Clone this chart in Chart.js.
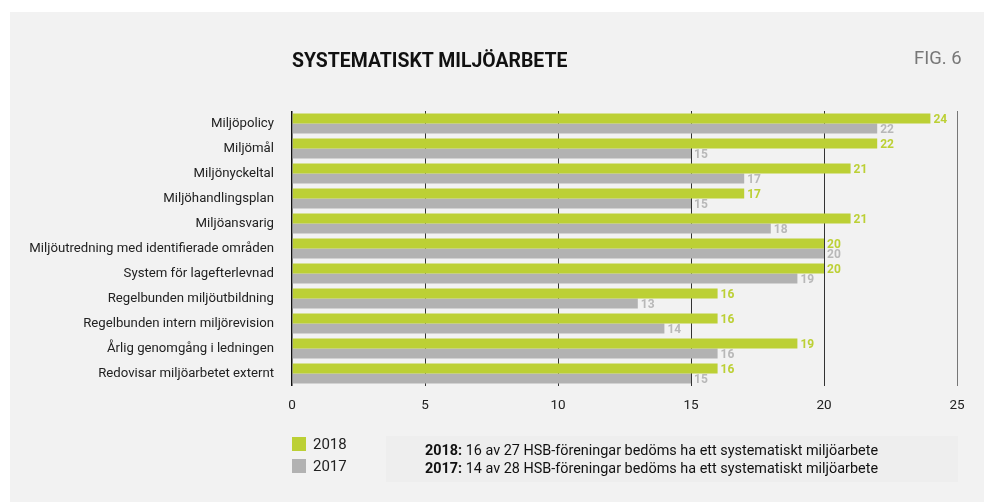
<!DOCTYPE html>
<html>
<head>
<meta charset="utf-8">
<script src="https://cdn.jsdelivr.net/npm/chart.js@4"></script>
<style>
  body { margin: 0; background: #fff; width: 984px; height: 502px; overflow: hidden; position: relative;
         font-family: "Roboto", sans-serif; }
  .panel { position: absolute; left: 10px; top: 12px; width: 974px; height: 490px; background: #f2f2f2; }
  #myChart { position: absolute; left: 0; top: 0; }
  .title { position: absolute; left: 292px; top: 48px; font-size: 21px; font-weight: bold; color: #111;
           transform: scaleX(0.925); transform-origin: left; white-space: nowrap; }
  .fig { position: absolute; left: 914px; top: 46px; font-size: 19px; color: #777;
         transform: scaleX(0.97); transform-origin: left; white-space: nowrap; }
  .legend { position: absolute; left: 292px; font-size: 15px; color: #222; }
  .legend span { display: inline-block; width: 14px; height: 14px; vertical-align: -2px; margin-right: 7px; }
  .note { position: absolute; left: 386px; top: 436px; width: 572px; height: 46px; background: #eeeeee; }
  .note div { position: absolute; left: 39px; font-size: 15px; color: #111; white-space: nowrap;
              transform: scaleX(0.96); transform-origin: left; }
</style>
</head>
<body>
<div class="panel"></div>
<canvas id="myChart" width="984" height="502"></canvas>
<div class="title">SYSTEMATISKT MILJÖARBETE</div>
<div class="fig">FIG. 6</div>
<div class="legend" style="top:435px"><span style="background:#bcd035"></span>2018</div>
<div class="legend" style="top:457px"><span style="background:#b2b2b2"></span>2017</div>
<div class="note">
  <div style="top:5px"><b>2018:</b> 16 av 27 HSB-föreningar bedöms ha ett systematiskt miljöarbete</div>
  <div style="top:23px"><b>2017:</b> 14 av 28 HSB-föreningar bedöms ha ett systematiskt miljöarbete</div>
</div>
<script>
const categories = [
  'Miljöpolicy',
  'Miljömål',
  'Miljönyckeltal',
  'Miljöhandlingsplan',
  'Miljöansvarig',
  'Miljöutredning med identifierade områden',
  'System för lagefterlevnad',
  'Regelbunden miljöutbildning',
  'Regelbunden intern miljörevision',
  'Årlig genomgång i ledningen',
  'Redovisar miljöarbetet externt'
];
const values2018 = [24, 22, 21, 17, 21, 20, 20, 16, 16, 19, 16];
const values2017 = [22, 15, 17, 15, 18, 20, 19, 13, 14, 16, 15];
const xTicks = [0, 5, 10, 15, 20, 25];

const green = '#bcd035';
const grey = '#b2b2b2';
const fontFam = '"Roboto", sans-serif';

// value labels at the end of each bar
const valueLabels = {
  id: 'valueLabels',
  afterDatasetsDraw(chart) {
    const ctx = chart.ctx;
    ctx.save();
    ctx.font = 'bold 12px ' + fontFam;
    ctx.textBaseline = 'middle';
    ctx.textAlign = 'left';
    chart.data.datasets.forEach(function(ds, i) {
      const meta = chart.getDatasetMeta(i);
      ctx.fillStyle = i === 0 ? ds.backgroundColor : '#b8b8b8';
      meta.data.forEach(function(bar, j) {
        ctx.fillText(ds.data[j], bar.x + 3, bar.y + 1);
      });
    });
    ctx.restore();
  }
};

const data = {
  labels: categories,
  datasets: [{
    label: '2018',
    backgroundColor: green,
    data: values2018,
    barPercentage: 1.0,
    categoryPercentage: 0.8
  }, {
    label: '2017',
    backgroundColor: grey,
    data: values2017,
    barPercentage: 1.0,
    categoryPercentage: 0.8
  }]
};

const config = {
  type: 'bar',
  data: data,
  options: {
    indexAxis: 'y',
    responsive: false,
    animation: false,
    layout: { padding: { left: 0, right: 27, top: 111, bottom: 86 } },
    plugins: { legend: { display: false }, tooltip: { enabled: false } },
    scales: {
      x: {
        min: 0,
        max: 25,
        afterBuildTicks: function(axis) { axis.ticks = xTicks.map(function(v) { return { value: v }; }); },
        afterFit: function(axis) { axis.height = 30; },
        border: { display: false },
        grid: {
          drawTicks: false,
          lineWidth: function(c) { return c.tick && c.tick.value === 0 ? 1.5 : 1; },
          color: function(c) {
            if (c.tick && c.tick.value === 0) return '#111';
            if (c.tick && c.tick.value === 25) return '#777';
            return '#333';
          }
        },
        ticks: { color: '#222', padding: 12, font: { family: fontFam, size: 13.5 } }
      },
      y: {
        afterFit: function(axis) { axis.width = 292; },
        border: { display: false },
        grid: { display: false },
        ticks: { color: '#222', padding: 10, font: { family: fontFam, size: 13.2 } }
      }
    }
  },
  plugins: [valueLabels]
};

const myChart = new Chart(document.getElementById('myChart').getContext('2d'), config);
</script>
</body>
</html>
